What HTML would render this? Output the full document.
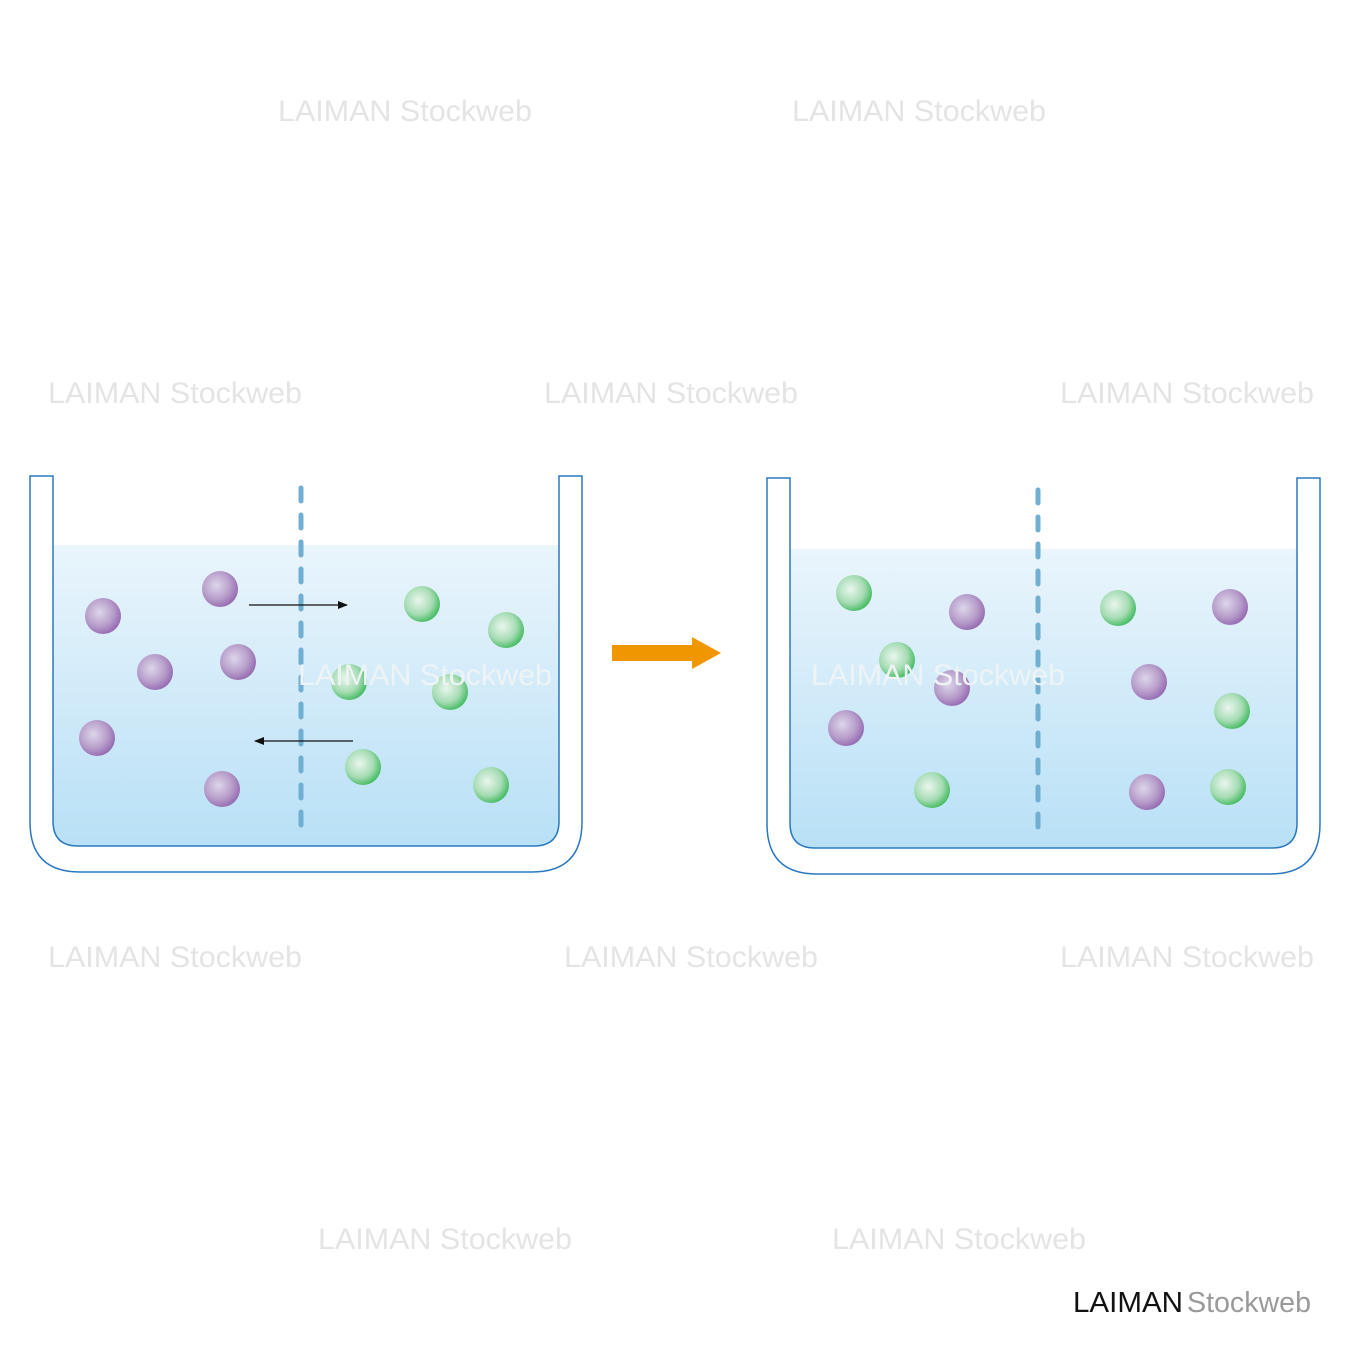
<!DOCTYPE html>
<html><head><meta charset="utf-8"><style>
html,body{margin:0;padding:0;background:#fff;}
svg{display:block;}
.wm{font-family:"Liberation Sans",sans-serif;font-size:30px;fill:#e4e4e4;}
</style></head><body>
<svg width="1350" height="1350" viewBox="0 0 1350 1350" xmlns="http://www.w3.org/2000/svg">
<defs>
<linearGradient id="water" x1="0" y1="0" x2="0" y2="1">
<stop offset="0" stop-color="#eaf5fc"/><stop offset="1" stop-color="#b8e0f6"/>
</linearGradient>
<radialGradient id="pur" cx="0.4" cy="0.4" r="0.65">
<stop offset="0" stop-color="#ddd6ea"/><stop offset="0.6" stop-color="#b79dca"/><stop offset="1" stop-color="#9366b0"/>
</radialGradient>
<radialGradient id="grn" cx="0.4" cy="0.4" r="0.65">
<stop offset="0" stop-color="#eaf6ee"/><stop offset="0.6" stop-color="#a6dcb4"/><stop offset="1" stop-color="#3cb95a"/>
</radialGradient>
<marker id="ah" markerWidth="10" markerHeight="8" refX="9" refY="4" orient="auto" markerUnits="userSpaceOnUse">
<path d="M0,0 L10,4 L0,8 Z" fill="#111"/></marker>
</defs>

<g>
<path d="M53,545 H559 V821 Q559,846 534,846 H78 Q53,846 53,821 Z" fill="url(#water)"/>
<path d="M30,476 H53 V821 Q53,846 78,846 H534 Q559,846 559,821 V476 H582 V822 Q582,872 532,872 H80 Q30,872 30,822 Z" fill="#fff" stroke="#2a78c0" stroke-width="1.5"/>
<line x1="301" y1="488" x2="301" y2="828" stroke="#70afd2" stroke-width="5" stroke-dasharray="13,14" stroke-linecap="round"/>
<g fill="url(#pur)">
<circle cx="103" cy="616" r="18"/><circle cx="220" cy="589" r="18"/><circle cx="155" cy="672" r="18"/>
<circle cx="238" cy="662" r="18"/><circle cx="97" cy="738" r="18"/><circle cx="222" cy="789" r="18"/>
</g>
<g fill="url(#grn)">
<circle cx="422" cy="604" r="18"/><circle cx="506" cy="630" r="18"/><circle cx="349" cy="682" r="18"/>
<circle cx="450" cy="692" r="18"/><circle cx="363" cy="767" r="18"/><circle cx="491" cy="785" r="18"/>
</g>
<line x1="249" y1="605" x2="347" y2="605" stroke="#111" stroke-width="1.3" marker-end="url(#ah)"/>
<line x1="353" y1="741" x2="255" y2="741" stroke="#111" stroke-width="1.3" marker-end="url(#ah)"/>
</g>

<path d="M612,645 H692 V637 L721,653 L692,669 V661 H612 Z" fill="#f09600"/>

<g>
<path d="M790,549 H1297 V823 Q1297,848 1272,848 H815 Q790,848 790,823 Z" fill="url(#water)"/>
<path d="M767,478 H790 V823 Q790,848 815,848 H1272 Q1297,848 1297,823 V478 H1320 V824 Q1320,874 1270,874 H817 Q767,874 767,824 Z" fill="#fff" stroke="#2a78c0" stroke-width="1.5"/>
<line x1="1038" y1="490" x2="1038" y2="830" stroke="#70afd2" stroke-width="5" stroke-dasharray="13,14" stroke-linecap="round"/>
<g fill="url(#grn)">
<circle cx="854" cy="593" r="18"/><circle cx="897" cy="660" r="18"/><circle cx="932" cy="790" r="18"/>
<circle cx="1118" cy="608" r="18"/><circle cx="1232" cy="711" r="18"/><circle cx="1228" cy="787" r="18"/>
</g>
<g fill="url(#pur)">
<circle cx="967" cy="612" r="18"/><circle cx="952" cy="688" r="18"/><circle cx="846" cy="728" r="18"/>
<circle cx="1230" cy="607" r="18"/><circle cx="1149" cy="682" r="18"/><circle cx="1147" cy="792" r="18"/>
</g>
</g>

<g class="wm">
<text x="278" y="121" textLength="254" lengthAdjust="spacingAndGlyphs">LAIMAN Stockweb</text>
<text x="792" y="121" textLength="254" lengthAdjust="spacingAndGlyphs">LAIMAN Stockweb</text>
<text x="48" y="403" textLength="254" lengthAdjust="spacingAndGlyphs">LAIMAN Stockweb</text>
<text x="544" y="403" textLength="254" lengthAdjust="spacingAndGlyphs">LAIMAN Stockweb</text>
<text x="1060" y="403" textLength="254" lengthAdjust="spacingAndGlyphs">LAIMAN Stockweb</text>
<text x="298" y="685" style="fill:#eef3f6" textLength="254" lengthAdjust="spacingAndGlyphs">LAIMAN Stockweb</text>
<text x="811" y="685" style="fill:#eef3f6" textLength="254" lengthAdjust="spacingAndGlyphs">LAIMAN Stockweb</text>
<text x="48" y="967" textLength="254" lengthAdjust="spacingAndGlyphs">LAIMAN Stockweb</text>
<text x="564" y="967" textLength="254" lengthAdjust="spacingAndGlyphs">LAIMAN Stockweb</text>
<text x="1060" y="967" textLength="254" lengthAdjust="spacingAndGlyphs">LAIMAN Stockweb</text>
<text x="318" y="1249" textLength="254" lengthAdjust="spacingAndGlyphs">LAIMAN Stockweb</text>
<text x="832" y="1249" textLength="254" lengthAdjust="spacingAndGlyphs">LAIMAN Stockweb</text>
</g>
<text x="1073" y="1312" font-family="Liberation Sans,sans-serif" font-size="29" fill="#111" textLength="110" lengthAdjust="spacingAndGlyphs">LAIMAN</text>
<text x="1187" y="1312" font-family="Liberation Sans,sans-serif" font-size="29" fill="#9a9a9a" textLength="124" lengthAdjust="spacingAndGlyphs">Stockweb</text>
</svg>
</body></html>
